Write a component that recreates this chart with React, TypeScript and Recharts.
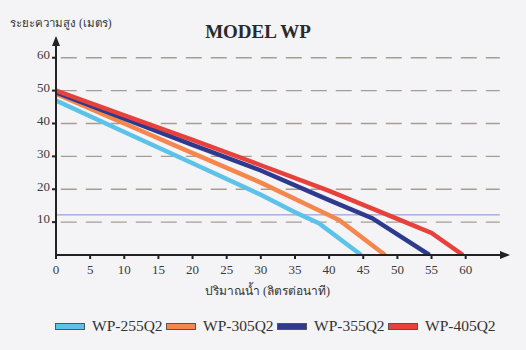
import { LineChart, Line, XAxis, YAxis, ReferenceLine, ReferenceDot } from 'recharts'

// flow (litres/min) vs head (m)
const wp255Flow = [0, 10, 20, 30, 35, 38.5, 44.7]
const wp255Head = [47, 37.4, 27.9, 18.3, 13, 9.7, 0]
const wp305Flow = [0, 10, 20, 30, 40, 41.5, 48.2]
const wp305Head = [49, 40, 31, 22, 12.1, 10.6, 0]
const wp355Flow = [0, 10, 20, 30, 40, 46.3, 54.7]
const wp355Head = [49.5, 41.5, 33.5, 25.7, 16.7, 11.2, 0]
const wp405Flow = [0, 10, 20, 30, 40, 50, 55, 59.6]
const wp405Head = [50, 42.5, 35, 27.3, 19.5, 11, 6.7, 0]

const xTicks = [0, 5, 10, 15, 20, 25, 30, 35, 40, 45, 50, 55, 60]
const yTicks = [10, 20, 30, 40, 50, 60]
const gridLevels = [10, 20, 30, 40, 50, 60]
const markerLevel = 12.2

const seriesNames = ['WP-255Q2', 'WP-305Q2', 'WP-355Q2', 'WP-405Q2']
const seriesColors = ['#5cc2ea', '#f5874c', '#2d3a8e', '#e8403b']

const toPoints = (flow: number[], head: number[]) => flow.map((x, i) => ({ x, y: head[i] }))

const series = [
  toPoints(wp255Flow, wp255Head),
  toPoints(wp305Flow, wp305Head),
  toPoints(wp355Flow, wp355Head),
  toPoints(wp405Flow, wp405Head),
]

const font = '"Liberation Serif", "Times New Roman", serif'

function XTick({ x, y, payload }: any) {
  return (
    <text x={x} y={y} dy="0.75em" textAnchor="middle" fontSize={13} fontFamily={font} fill="#3a3a3a">
      {payload.value}
    </text>
  )
}

function YTick({ x, y, payload }: any) {
  return (
    <text x={x} y={y} dy="0.1em" textAnchor="end" fontSize={13} fontFamily={font} fill="#3a3a3a">
      {payload.value}
    </text>
  )
}

function LegendBox() {
  return (
    <div style={{ position: 'absolute', left: 55, top: 317, display: 'flex', alignItems: 'center', fontFamily: font, fontSize: 15.5, color: '#333' }}>
      {seriesNames.map((name, i) => (
        <div key={name} style={{ display: 'flex', alignItems: 'center', width: 111 }}>
          <span style={{ width: 28, height: 5, background: seriesColors[i], border: '1px solid #555', marginRight: 7 }} />
          <span>{name}</span>
        </div>
      ))}
    </div>
  )
}

export default function App() {
  return (
    <div style={{ position: 'absolute', left: 0, top: 0, width: 526, height: 350, background: '#f4f4f6' }}>
      <div style={{ position: 'absolute', left: 0, width: 516, top: 21, textAlign: 'center', fontFamily: font, fontWeight: 'bold', fontSize: 19, color: '#2a2a2a' }}>
        MODEL WP
      </div>
      <div style={{ position: 'absolute', left: 10, top: 14, fontFamily: font, fontSize: 11.5, color: '#333' }}>
        ระยะความสูง (เมตร)
      </div>
      <div style={{ position: 'absolute', left: 205, top: 281, fontFamily: font, fontSize: 12, color: '#333' }}>
        ปริมาณน้ำ (ลิตรต่อนาที)
      </div>
      <LineChart width={526} height={350} margin={{ top: 38, right: 18, left: 16, bottom: 65 }}>
        <XAxis
          type="number"
          dataKey="x"
          domain={[0, 66.2]}
          ticks={xTicks}
          tick={<XTick />}
          tickSize={4}
          tickMargin={5}
          height={30}
          stroke="#222"
          strokeWidth={2}
          allowDataOverflow
        />
        <YAxis
          type="number"
          dataKey="y"
          domain={[0, 66]}
          ticks={yTicks}
          tick={<YTick />}
          tickSize={4}
          tickMargin={2}
          width={40}
          stroke="#222"
          strokeWidth={2}
          allowDataOverflow
        />
        {gridLevels.map((v) => (
          <ReferenceLine
            key={v}
            segment={[{ x: 0.7, y: v }, { x: 65, y: v }]}
            stroke="#a69d92"
            strokeWidth={1.4}
            strokeDasharray="16 9"
          />
        ))}
        <ReferenceLine segment={[{ x: 0, y: markerLevel }, { x: 65, y: markerLevel }]} stroke="#8b8bd2" strokeWidth={1} />
        {series.map((pts, i) => (
          <Line
            key={seriesNames[i]}
            data={pts}
            dataKey="y"
            name={seriesNames[i]}
            type="linear"
            stroke={seriesColors[i]}
            strokeWidth={4.5}
            dot={false}
            isAnimationActive={false}
          />
        ))}
        <ReferenceDot
          x={66.2}
          y={0}
          r={0}
          shape={(p: any) => <path d={`M${p.cx + 2},${p.cy} L${p.cx - 8},${p.cy - 4} L${p.cx - 8},${p.cy + 4} Z`} fill="#222" />}
        />
        <ReferenceDot
          x={0}
          y={66}
          r={0}
          shape={(p: any) => <path d={`M${p.cx},${p.cy - 2} L${p.cx - 4},${p.cy + 8} L${p.cx + 4},${p.cy + 8} Z`} fill="#222" />}
        />
      </LineChart>
      <LegendBox />
    </div>
  )
}
